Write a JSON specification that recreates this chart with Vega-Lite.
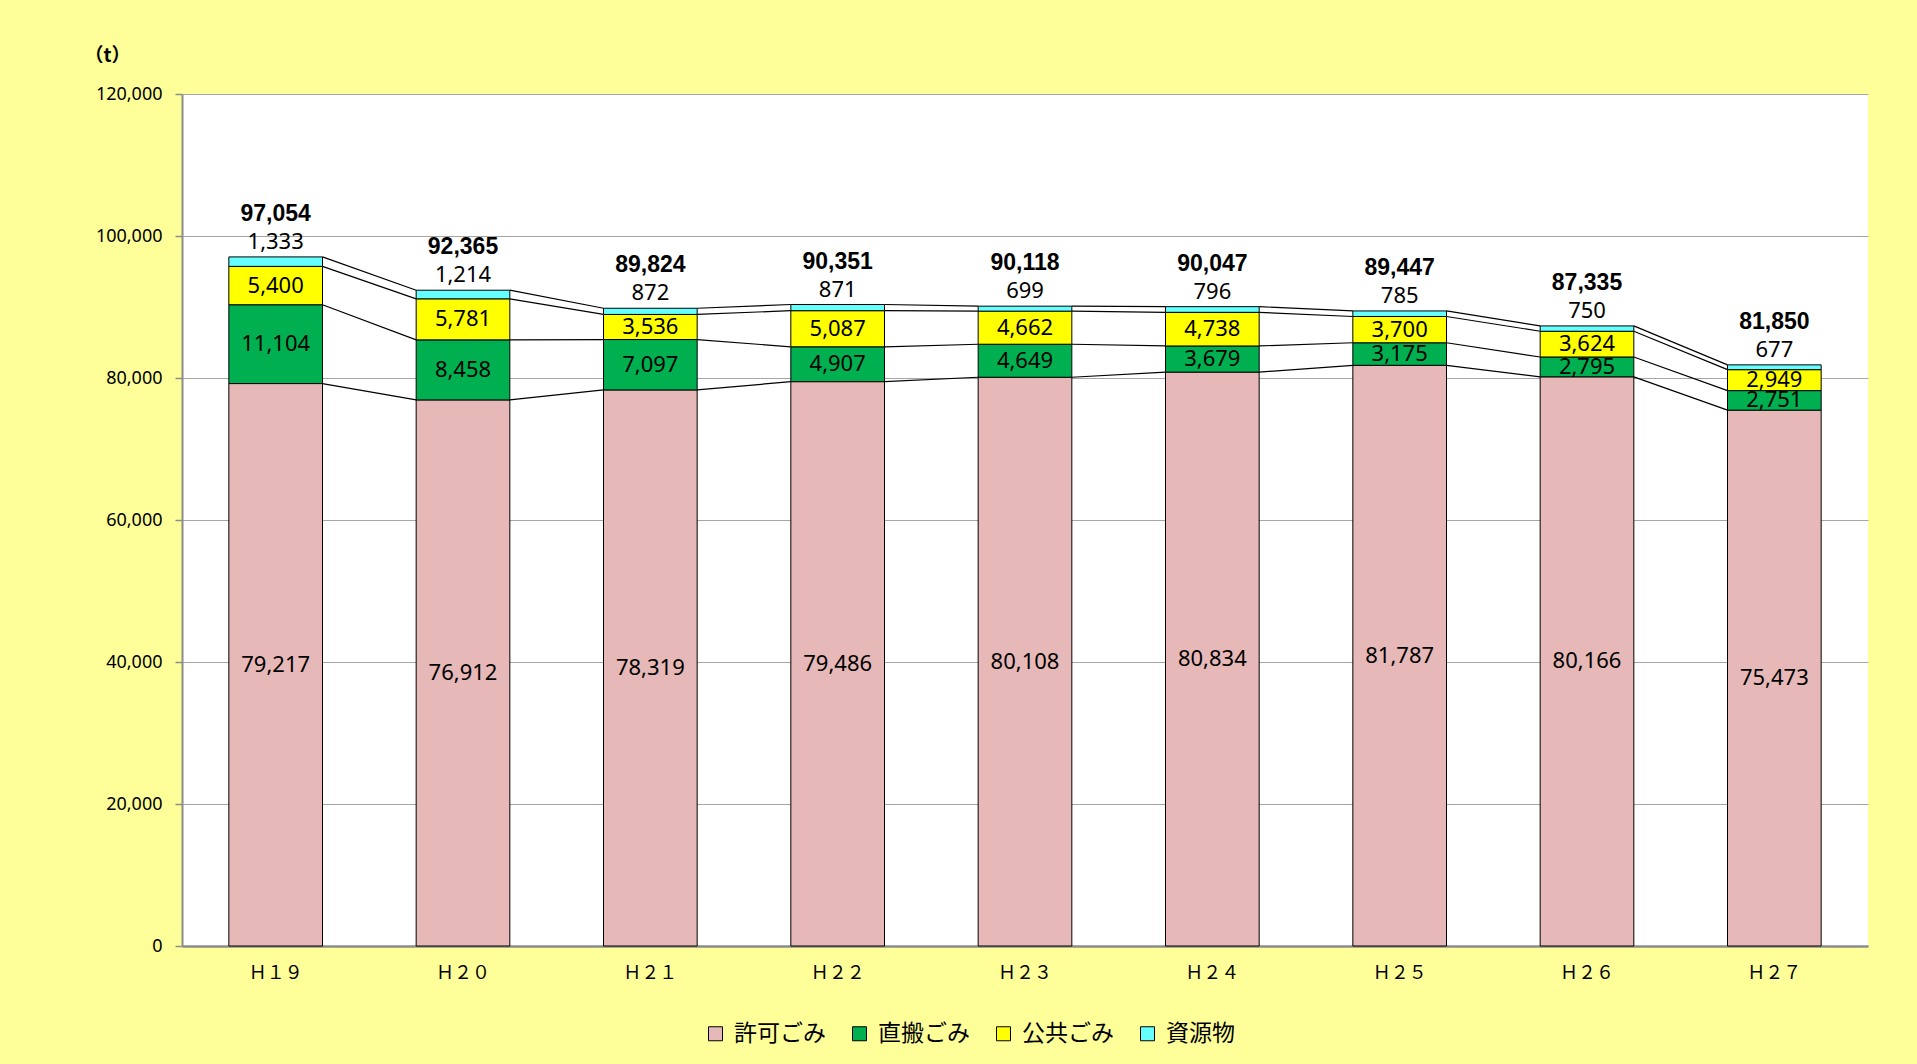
{
  "$schema": "https://vega.github.io/schema/vega-lite/v6.json",
  "width": 1686,
  "height": 852,
  "autosize": {"type": "none"},
  "padding": {"left": 182, "top": 94, "right": 49, "bottom": 118},
  "background": "#FFFF99",
  "config": {
    "view": {"fill": "white", "stroke": null},
    "font": "Noto Sans",
    "axisY": {
      "grid": true, "gridColor": "#A6A6A6", "gridWidth": 1.2,
      "domainColor": "#8C8C8C", "domainWidth": 2,
      "tickColor": "#8C8C8C", "tickSize": 7, "tickWidth": 1.5, "tickCount": 6,
      "labelFont": "Noto Sans", "labelFontSize": 18, "labelColor": "black", "labelPadding": 13,
      "titleAngle": 0, "titleX": -75, "titleY": -39, "titleAlign": "center", "titleBaseline": "middle",
      "titleFont": "Noto Sans CJK JP", "titleFontSize": 19, "titleFontWeight": "bold", "titleColor": "black"
    },
    "axisX": {
      "domainColor": "#8C8C8C", "domainWidth": 2.5, "ticks": false, "grid": false,
      "labelFont": "Noto Sans CJK JP", "labelFontSize": 18, "labelColor": "black", "labelPadding": 18, "labelAngle": 0
    },
    "legend": {
      "orient": "none", "legendX": 522, "legendY": 928, "direction": "horizontal", "columns": 4,
      "symbolType": "square", "symbolSize": 196, "symbolStrokeColor": "black", "symbolStrokeWidth": 1, "symbolOpacity": 1,
      "labelFont": "Noto Sans CJK JP", "labelFontSize": 23, "labelColor": "black", "labelOffset": 7,
      "columnPadding": 22, "labelLimit": 300
    }
  },
  "datasets": {
    "d": [
      {"year": "Ｈ１９", "cat": "許可ごみ", "ord": 1, "value": 79217},
      {"year": "Ｈ１９", "cat": "直搬ごみ", "ord": 2, "value": 11104},
      {"year": "Ｈ１９", "cat": "公共ごみ", "ord": 3, "value": 5400},
      {"year": "Ｈ１９", "cat": "資源物", "ord": 4, "value": 1333},
      {"year": "Ｈ２０", "cat": "許可ごみ", "ord": 1, "value": 76912},
      {"year": "Ｈ２０", "cat": "直搬ごみ", "ord": 2, "value": 8458},
      {"year": "Ｈ２０", "cat": "公共ごみ", "ord": 3, "value": 5781},
      {"year": "Ｈ２０", "cat": "資源物", "ord": 4, "value": 1214},
      {"year": "Ｈ２１", "cat": "許可ごみ", "ord": 1, "value": 78319},
      {"year": "Ｈ２１", "cat": "直搬ごみ", "ord": 2, "value": 7097},
      {"year": "Ｈ２１", "cat": "公共ごみ", "ord": 3, "value": 3536},
      {"year": "Ｈ２１", "cat": "資源物", "ord": 4, "value": 872},
      {"year": "Ｈ２２", "cat": "許可ごみ", "ord": 1, "value": 79486},
      {"year": "Ｈ２２", "cat": "直搬ごみ", "ord": 2, "value": 4907},
      {"year": "Ｈ２２", "cat": "公共ごみ", "ord": 3, "value": 5087},
      {"year": "Ｈ２２", "cat": "資源物", "ord": 4, "value": 871},
      {"year": "Ｈ２３", "cat": "許可ごみ", "ord": 1, "value": 80108},
      {"year": "Ｈ２３", "cat": "直搬ごみ", "ord": 2, "value": 4649},
      {"year": "Ｈ２３", "cat": "公共ごみ", "ord": 3, "value": 4662},
      {"year": "Ｈ２３", "cat": "資源物", "ord": 4, "value": 699},
      {"year": "Ｈ２４", "cat": "許可ごみ", "ord": 1, "value": 80834},
      {"year": "Ｈ２４", "cat": "直搬ごみ", "ord": 2, "value": 3679},
      {"year": "Ｈ２４", "cat": "公共ごみ", "ord": 3, "value": 4738},
      {"year": "Ｈ２４", "cat": "資源物", "ord": 4, "value": 796},
      {"year": "Ｈ２５", "cat": "許可ごみ", "ord": 1, "value": 81787},
      {"year": "Ｈ２５", "cat": "直搬ごみ", "ord": 2, "value": 3175},
      {"year": "Ｈ２５", "cat": "公共ごみ", "ord": 3, "value": 3700},
      {"year": "Ｈ２５", "cat": "資源物", "ord": 4, "value": 785},
      {"year": "Ｈ２６", "cat": "許可ごみ", "ord": 1, "value": 80166},
      {"year": "Ｈ２６", "cat": "直搬ごみ", "ord": 2, "value": 2795},
      {"year": "Ｈ２６", "cat": "公共ごみ", "ord": 3, "value": 3624},
      {"year": "Ｈ２６", "cat": "資源物", "ord": 4, "value": 750},
      {"year": "Ｈ２７", "cat": "許可ごみ", "ord": 1, "value": 75473},
      {"year": "Ｈ２７", "cat": "直搬ごみ", "ord": 2, "value": 2751},
      {"year": "Ｈ２７", "cat": "公共ごみ", "ord": 3, "value": 2949},
      {"year": "Ｈ２７", "cat": "資源物", "ord": 4, "value": 677}
    ],
    "t": [
      {"year": "Ｈ１９", "total": 97054},
      {"year": "Ｈ２０", "total": 92365},
      {"year": "Ｈ２１", "total": 89824},
      {"year": "Ｈ２２", "total": 90351},
      {"year": "Ｈ２３", "total": 90118},
      {"year": "Ｈ２４", "total": 90047},
      {"year": "Ｈ２５", "total": 89447},
      {"year": "Ｈ２６", "total": 87335},
      {"year": "Ｈ２７", "total": 81850}
    ]
  },
  "encoding": {
    "x": {
      "field": "year", "type": "nominal", "sort": "ascending", "title": null,
      "scale": {"paddingInner": 0.5, "paddingOuter": 0.25}
    }
  },
  "layer": [
    {
      "data": {"name": "d"},
      "transform": [
        {"stack": "value", "groupby": ["year"], "sort": [{"field": "ord"}], "as": ["v0", "v1"]},
        {"window": [{"op": "lead", "field": "v1", "as": "nv1"}, {"op": "lead", "field": "year", "as": "nyear"}], "groupby": ["cat"], "sort": [{"field": "year"}]},
        {"filter": "datum.nyear != null"}
      ],
      "mark": {"type": "rule", "color": "black", "strokeWidth": 1.2, "xOffset": 46.8, "x2Offset": -46.8},
      "encoding": {
        "x2": {"field": "nyear"},
        "y": {"field": "v1", "type": "quantitative", "title": "（t）", "scale": {"domain": [0, 120000]}},
        "y2": {"field": "nv1"}
      }
    },
    {
      "data": {"name": "d"},
      "transform": [
        {"stack": "value", "groupby": ["year"], "sort": [{"field": "ord"}], "as": ["v0", "v1"]}
      ],
      "mark": {"type": "bar", "stroke": "black", "strokeWidth": 1},
      "encoding": {
        "y": {"field": "v1", "type": "quantitative", "title": "（t）", "scale": {"domain": [0, 120000]}},
        "y2": {"field": "v0"},
        "color": {
          "field": "cat", "type": "nominal", "title": null,
          "scale": {"domain": ["許可ごみ", "直搬ごみ", "公共ごみ", "資源物"], "range": ["#E6B8B7", "#00B050", "#FFFF00", "#66FFFF"]}
        }
      }
    },
    {
      "data": {"name": "d"},
      "transform": [
        {"stack": "value", "groupby": ["year"], "sort": [{"field": "ord"}], "as": ["v0", "v1"]},
        {"fold": ["v0", "v1"], "as": ["k", "pos"]},
        {"aggregate": [{"op": "mean", "field": "pos", "as": "mid"}], "groupby": ["year", "cat", "value"]},
        {"filter": "datum.cat != '資源物'"}
      ],
      "mark": {"type": "text", "font": "Noto Sans", "fontSize": 22, "color": "black", "baseline": "middle", "align": "center"},
      "encoding": {
        "y": {"field": "mid", "type": "quantitative", "title": "（t）", "scale": {"domain": [0, 120000]}},
        "text": {"field": "value", "type": "quantitative", "format": ","}
      }
    },
    {
      "data": {"name": "d"},
      "transform": [
        {"stack": "value", "groupby": ["year"], "sort": [{"field": "ord"}], "as": ["v0", "v1"]},
        {"filter": "datum.cat == '資源物'"}
      ],
      "mark": {"type": "text", "font": "Noto Sans", "fontSize": 22, "color": "black", "baseline": "bottom", "align": "center", "dy": -3},
      "encoding": {
        "y": {"field": "v1", "type": "quantitative", "title": "（t）", "scale": {"domain": [0, 120000]}},
        "text": {"field": "value", "type": "quantitative", "format": ","}
      }
    },
    {
      "data": {"name": "t"},
      "mark": {"type": "text", "font": "Liberation Sans", "fontSize": 23, "fontWeight": "bold", "color": "black", "baseline": "bottom", "align": "center", "dy": -31},
      "encoding": {
        "y": {"field": "total", "type": "quantitative", "title": "（t）", "scale": {"domain": [0, 120000]}},
        "text": {"field": "total", "type": "quantitative", "format": ","}
      }
    }
  ]
}
